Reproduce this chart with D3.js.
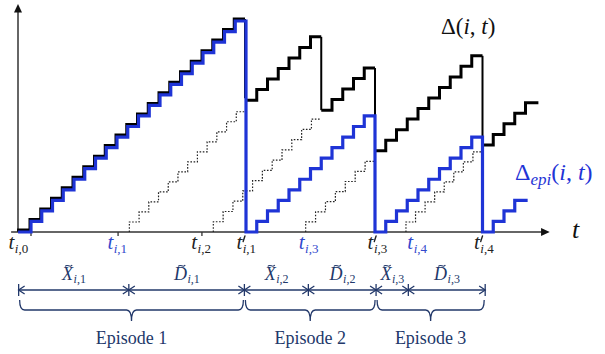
<!DOCTYPE html>
<html><head><meta charset="utf-8">
<script src="https://cdn.jsdelivr.net/npm/d3@7"></script>
<style>html,body{margin:0;padding:0;background:#fff;} svg{display:block}</style>
</head><body><svg id="c" width="605" height="354"></svg>
<script>
// ---------------- data (time in slots, age in slots) ----------------
// staircase segments: [startTime, endTime, ageAtStart]
const blackSegments = [[-0.2, 21, 0], [21, 28, 12.5], [28, 33, 11.55], [33, 43, 7.7], [43, 48.2, 8.25]];
const blueSegments  = [[-0.2, 21, 0], [21, 33, 0], [33, 43, 0], [43, 47.2, 0]];
// dotted staircases: [startTime, endTime, numberOfSteps, topAge]
const dottedStairs = [[10.15, 21, 12, 11.4], [17.96, 28, 11, 10.7], [26.55, 33, 7, 6.7], [35.88, 43, 8, 7.6]];
// axis tick marks and tick labels
const tickMarkTimes = [1.0, 9.1, 16.9];
const tickLabelTimes = [-0.2, 9.0, 16.8, 21.0, 26.8, 33.2, 36.9, 43.1];
const tickLabelSubs  = ["0", "1", "2", "1", "3", "3", "4", "4"];
const tickLabelPrime = [false, false, false, true, false, true, false, true];
const tickLabelBlue  = [false, true, false, false, true, false, true, false];
// bottom annotation
const boundaryTimes = [-0.15, 10.1, 20.85, 26.8, 33.1, 36.1, 43.25];
const intervalNames = ["X", "D", "X", "D", "X", "D"];
const intervalSubs  = ["1", "1", "2", "2", "3", "3"];
const episodeNames  = ["Episode 1", "Episode 2", "Episode 3"];
const episodeSpans  = [[0, 2], [2, 4], [4, 6]];

// ---------------- setup ----------------
const svg = d3.select("#c");
const x = d3.scaleLinear().domain([0, 50]).range([20.25, 557.75]);
const y = d3.scaleLinear().domain([0, 20]).range([232, 21]);
const BLUE = "#1f34d6", BLUE_TXT = "#3248cc", AXIS = "#333", NAVY = "#22386a";
const MATH = "'Liberation Serif', 'DejaVu Serif', serif";

const line = d3.line().x(d => x(d[0])).y(d => y(d[1]));

function stair(ts, te, v0) {
  const pts = [[ts, v0]];
  let v = v0;
  for (let k = Math.ceil(ts + 0.5); k <= te - 0.5; k++) { pts.push([k, v]); v += 1; pts.push([k, v]); }
  pts.push([te, v]);
  return pts;
}
function dotStair(t0, t1, n, top) {
  const w = (t1 - t0) / n, h = top / n;
  const pts = [[t0, 0]];
  for (let k = 0; k < n; k++) { const tk = t0 + k * w; pts.push([tk, k * h]); pts.push([tk, (k + 1) * h]); }
  pts.push([t1, top]);
  return pts;
}

// ---------------- axes ----------------
svg.append("line").attr("x1", x(-0.85)).attr("x2", x(48.7)).attr("y1", y(0)).attr("y2", y(0))
  .attr("stroke", AXIS).attr("stroke-width", 1.5);
svg.append("path").attr("d", `M${x(49.25)},${y(0)} L${x(48.45)},${y(0) - 4} L${x(48.45)},${y(0) + 4} Z`).attr("fill", "#111");
svg.append("line").attr("x1", 18).attr("x2", 18).attr("y1", y(0)).attr("y2", y(21.0))
  .attr("stroke", AXIS).attr("stroke-width", 1.5);
svg.append("path").attr("d", `M18,${y(21.6)} L14,${y(20.8)} L22,${y(20.8)} Z`).attr("fill", "#111");
tickMarkTimes.forEach(t => svg.append("line").attr("x1", x(t)).attr("x2", x(t)).attr("y1", y(0)).attr("y2", y(0) + 4)
  .attr("stroke", AXIS).attr("stroke-width", 1.3));

// ---------------- dotted staircases ----------------
dottedStairs.forEach(d => svg.append("path").attr("d", line(dotStair(...d))).attr("fill", "none")
  .attr("stroke", "#222").attr("stroke-width", 1.2).attr("stroke-dasharray", "1.6,1.6"));

// ---------------- black Δ(i,t) ----------------
blackSegments.forEach((s, i) => {
  const g = svg.append("g");
  if (i === 0) g.attr("transform", "translate(-1,-2)");
  g.append("path").attr("d", line(stair(...s))).attr("fill", "none").attr("stroke", "#000")
    .attr("stroke-width", 3).attr("stroke-linejoin", "miter");
  if (i < blackSegments.length - 1) {
    const pts = stair(...s), end = pts[pts.length - 1], nxt = blackSegments[i + 1];
    g.append("line").attr("x1", x(end[0])).attr("x2", x(end[0])).attr("y1", y(end[1])).attr("y2", y(nxt[2]))
      .attr("stroke", "#000").attr("stroke-width", 2);
  }
});

// ---------------- blue Δ_epi(i,t) ----------------
let bluePts = [];
blueSegments.forEach(s => { bluePts = bluePts.concat(stair(...s)); });
svg.append("path").attr("d", line(bluePts)).attr("fill", "none").attr("stroke", BLUE)
  .attr("stroke-width", 3.2).attr("stroke-linejoin", "miter");

// ---------------- math text helper ----------------
function mathLabel(parent, cx, by, base, subI, subRest, o) {
  const size = o.size, ss = o.subSize;
  const t = parent.append("text").attr("y", by).attr("fill", o.color).style("font-family", MATH);
  const b = t.append("tspan").attr("font-style", "italic").attr("font-size", size).text(base);
  t.append("tspan").attr("font-style", "italic").attr("font-size", ss).attr("dy", o.subDy).attr("dx", 0.5).text(subI);
  t.append("tspan").attr("font-size", ss).text("," + subRest);
  const w = t.node().getComputedTextLength();
  const x0 = cx - w / 2;
  t.attr("x", x0);
  const bw = b.node().getComputedTextLength();
  if (o.prime) {
    const px = x0 + bw + 1.5, py = by - size * 0.62;
    parent.append("path").attr("d", `M${px + 1.2},${py} L${px - 0.6},${py + 5.5}`)
      .attr("stroke", o.color).attr("stroke-width", 1.4).attr("stroke-linecap", "round");
  }
  if (o.tilde) {
    const tx = x0 + bw * 0.6, ty = by - size * 0.8;
    parent.append("path").attr("d", `M${tx - 3.5},${ty + 1} C${tx - 1.5},${ty - 2.5} ${tx + 1.5},${ty + 3} ${tx + 3.5},${ty - 0.5}`)
      .attr("fill", "none").attr("stroke", o.color).attr("stroke-width", 1.1);
  }
}

// tick labels
tickLabelTimes.forEach((t, i) => mathLabel(svg, x(t), 249, "t", "i", tickLabelSubs[i],
  { size: 21, subSize: 13, subDy: 4, prime: tickLabelPrime[i], color: tickLabelBlue[i] ? BLUE_TXT : "#222" }));

// axis label t
svg.append("text").attr("x", 572).attr("y", 238).attr("font-style", "italic").attr("font-size", 26)
  .style("font-family", MATH).attr("fill", "#111").text("t");

// Δ(i,t)
{
  const t = svg.append("text").attr("x", 441).attr("y", 34).attr("font-size", 23).style("font-family", MATH).attr("fill", "#111");
  t.append("tspan").text("Δ(");
  t.append("tspan").attr("font-style", "italic").text("i");
  t.append("tspan").text(", ");
  t.append("tspan").attr("font-style", "italic").text("t");
  t.append("tspan").text(")");
}
// Δ_epi(i,t)
{
  const t = svg.append("text").attr("x", 515).attr("y", 180).attr("font-size", 24).style("font-family", MATH).attr("fill", BLUE);
  t.append("tspan").text("Δ");
  t.append("tspan").attr("font-style", "italic").attr("font-size", 17).attr("dy", 5).text("epi");
  t.append("tspan").attr("dy", -5).text("(");
  t.append("tspan").attr("font-style", "italic").text("i");
  t.append("tspan").text(", ");
  t.append("tspan").attr("font-style", "italic").text("t");
  t.append("tspan").text(")");
}

// ---------------- bottom annotation ----------------
const ay = 290;
const ann = svg.append("g").attr("stroke", NAVY).attr("fill", "none").attr("stroke-width", 1.3);
boundaryTimes.forEach(t => ann.append("line").attr("x1", x(t)).attr("x2", x(t)).attr("y1", ay - 6).attr("y2", ay + 6));
intervalNames.forEach((nm, i) => {
  const xa = x(boundaryTimes[i]), xb = x(boundaryTimes[i + 1]);
  ann.append("line").attr("x1", xa).attr("x2", xb).attr("y1", ay).attr("y2", ay);
  ann.append("path").attr("d", `M${xa + 6},${ay - 4} L${xa},${ay} L${xa + 6},${ay + 4}`);
  ann.append("path").attr("d", `M${xb - 6},${ay - 4} L${xb},${ay} L${xb - 6},${ay + 4}`);
  mathLabel(svg, (xa + xb) / 2, 280, nm, "i", intervalSubs[i], { size: 18, subSize: 12, subDy: 3, tilde: true, color: NAVY });
});
episodeSpans.forEach((sp, i) => {
  const xa = x(boundaryTimes[sp[0]]) + 1, xb = x(boundaryTimes[sp[1]]) - 1, xm = (xa + xb) / 2;
  const y0 = 300, yh = 310, yt = 321, r = 5;
  ann.append("path").attr("d",
    `M${xa},${y0} Q${xa},${yh} ${xa + r},${yh} L${xm - r},${yh} Q${xm},${yh} ${xm},${yt} Q${xm},${yh} ${xm + r},${yh} L${xb - r},${yh} Q${xb},${yh} ${xb},${y0}`);
  svg.append("text").attr("x", xm).attr("y", 344).attr("text-anchor", "middle").attr("font-size", 18)
    .style("font-family", MATH).attr("fill", NAVY).text(episodeNames[i]);
});
</script></body></html>
